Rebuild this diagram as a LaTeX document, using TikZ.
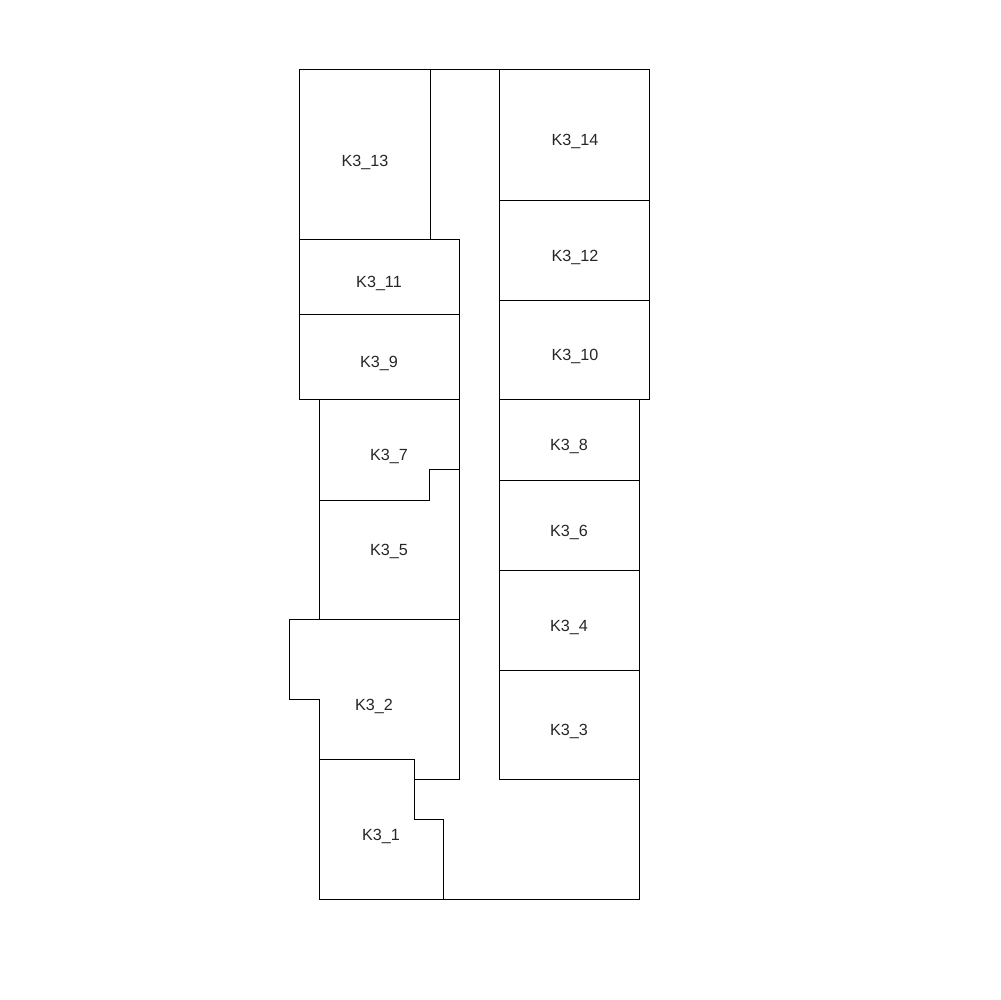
\documentclass[tikz,border=0pt]{standalone}
\usepackage{fontspec}
\setmainfont{Liberation Sans}
\tikzset{
    room/.style={draw=black,line width=0.4pt,fill=none},
    lbl/.style={font=\fontsize{9.2pt}{11pt}\selectfont,inner sep=0pt,text=black!85},
}
\begin{document}
\begin{tikzpicture}[x=0.02cm,y=-0.02cm]
\useasboundingbox (0,0) rectangle (1000,1000);
% Left column
\draw[room] (299.5,69.5) -- (430.7,69.5) -- (430.7,239.5) -- (299.5,239.5) -- cycle;
\draw[room] (299.5,239.5) -- (459.5,239.5) -- (459.5,314.5) -- (299.5,314.5) -- cycle;
\draw[room] (299.5,314.5) -- (459.5,314.5) -- (459.5,399.5) -- (299.5,399.5) -- cycle;
\draw[room] (319.5,399.5) -- (459.5,399.5) -- (459.5,469.5) -- (429.5,469.5) -- (429.5,500.5) -- (319.5,500.5) -- cycle;
\draw[room] (319.5,500.5) -- (429.5,500.5) -- (429.5,469.5) -- (459.5,469.5) -- (459.5,619.5) -- (319.5,619.5) -- cycle;
\draw[room] (289.5,619.5) -- (459.5,619.5) -- (459.5,779.5) -- (414.5,779.5) -- (414.5,759.5) -- (319.5,759.5) -- (319.5,699.5) -- (289.5,699.5) -- cycle;
\draw[room] (319.5,759.5) -- (414.5,759.5) -- (414.5,819.5) -- (443.5,819.5) -- (443.5,899.5) -- (319.5,899.5) -- cycle;
% Right column
\draw[room] (499.5,69.5) rectangle (649.5,200.5);
\draw[room] (499.5,200.5) rectangle (649.5,300.5);
\draw[room] (499.5,300.5) rectangle (649.5,399.5);
\draw[room] (499.5,399.5) rectangle (639.5,480.5);
\draw[room] (499.5,480.5) rectangle (639.5,570.5);
\draw[room] (499.5,570.5) rectangle (639.5,670.5);
\draw[room] (499.5,670.5) rectangle (639.5,779.5);
% Corridor
\draw[room] (430.7,69.5) -- (499.5,69.5) -- (499.5,779.5) -- (639.5,779.5) -- (639.5,899.5) -- (443.5,899.5) -- (443.5,819.5) -- (414.5,819.5) -- (414.5,779.5) -- (459.5,779.5);
% Labels
\node[lbl] (k13) at (365,162) {K3\_13};
\node[lbl] (k14) at (575,141) {K3\_14};
\node[lbl] (k11) at (379,283) {K3\_11};
\node[lbl] (k12) at (575,257) {K3\_12};
\node[lbl] (k9) at (379,363) {K3\_9};
\node[lbl] (k10) at (575,356) {K3\_10};
\node[lbl] (k7) at (389,456) {K3\_7};
\node[lbl] (k8) at (569,446) {K3\_8};
\node[lbl] (k5) at (389,551) {K3\_5};
\node[lbl] (k6) at (569,532) {K3\_6};
\node[lbl] (k4) at (569,627) {K3\_4};
\node[lbl] (k2) at (374,706) {K3\_2};
\node[lbl] (k3) at (569,731) {K3\_3};
\node[lbl] (k1) at (381,836) {K3\_1};
\end{tikzpicture}
\end{document}
